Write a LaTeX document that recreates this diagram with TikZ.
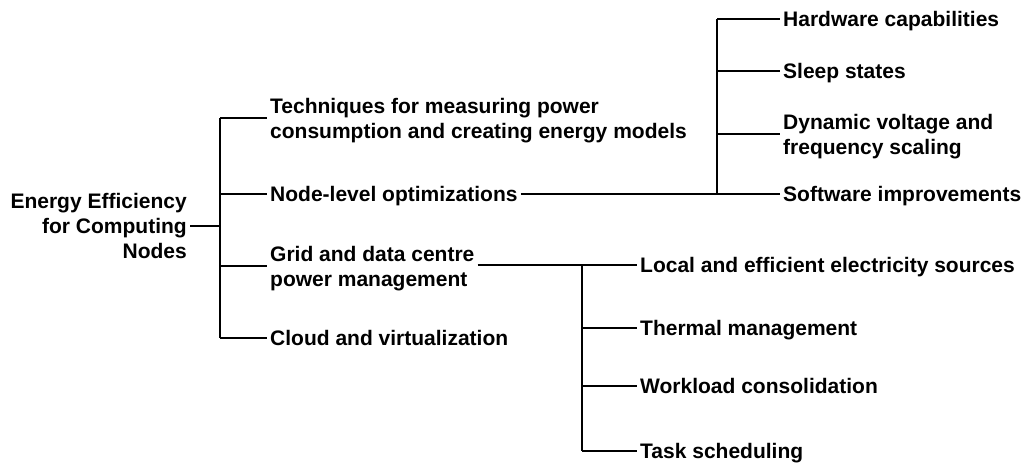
\documentclass[tikz,border=0pt]{standalone}
\usepackage{fontspec}
\setmainfont{Liberation Sans}
\begin{document}
\begin{tikzpicture}[x=1pt,y=-1pt,
  lbl/.style={inner xsep=3pt, inner ysep=0pt, font=\bfseries\fontsize{21}{25}\selectfont, align=left, anchor=base west},
  rootlbl/.style={lbl, align=right, anchor=base east},
  conn/.style={line width=1.3pt}]
\useasboundingbox (0,0) rectangle (1025,464);
% nodes (base anchor = baseline of last line)
\node[rootlbl] (root) at (190,258.5) {Energy Efficiency\\for Computing\\Nodes};
\node[lbl] (tech) at (267,138) {Techniques for measuring power\\consumption and creating energy models};
\node[lbl] (nodelvl) at (267,201.5) {Node-level optimizations};
\node[lbl] (grid) at (267,286) {Grid and data centre\\power management};
\node[lbl] (cloud) at (267,345.5) {Cloud and virtualization};
\node[lbl] (hw) at (780,26.5) {Hardware capabilities};
\node[lbl] (sleep) at (780,78.5) {Sleep states};
\node[lbl] (dvfs) at (780,154) {Dynamic voltage and\\frequency scaling};
\node[lbl] (sw) at (780,201.5) {Software improvements};
\node[lbl] (local) at (637,272.5) {Local and efficient electricity sources};
\node[lbl] (thermal) at (637,335.5) {Thermal management};
\node[lbl] (workload) at (637,393.5) {Workload consolidation};
\node[lbl] (task) at (637,458) {Task scheduling};
% junctions
\coordinate (r0) at (220,226);
\coordinate (r1) at (220,118);
\coordinate (r2) at (220,194);
\coordinate (r3) at (220,266);
\coordinate (r4) at (220,338);
\coordinate (u1) at (717,19);
\coordinate (u2) at (717,71);
\coordinate (u3) at (717,134);
\coordinate (u4) at (717,194);
\coordinate (l1) at (582,265);
\coordinate (l2) at (582,328);
\coordinate (l3) at (582,386);
\coordinate (l4) at (582,451);
% connectors
\draw[conn] (root.east |- r0) -- (r0);
\draw[conn] (r1) -- (r4);
\draw[conn] (r1) -- (tech.west |- r1);
\draw[conn] (r2) -- (nodelvl.west |- r2);
\draw[conn] (r3) -- (grid.west |- r3);
\draw[conn] (r4) -- (cloud.west |- r4);
\draw[conn] (nodelvl.east |- u4) -- (u4) -- (sw.west |- u4);
\draw[conn] (u1) -- (u4);
\draw[conn] (u1) -- (hw.west |- u1);
\draw[conn] (u2) -- (sleep.west |- u2);
\draw[conn] (u3) -- (dvfs.west |- u3);
\draw[conn] (grid.east |- l1) -- (l1) -- (local.west |- l1);
\draw[conn] (l1) -- (l4);
\draw[conn] (l2) -- (thermal.west |- l2);
\draw[conn] (l3) -- (workload.west |- l3);
\draw[conn] (l4) -- (task.west |- l4);
\end{tikzpicture}
\end{document}
